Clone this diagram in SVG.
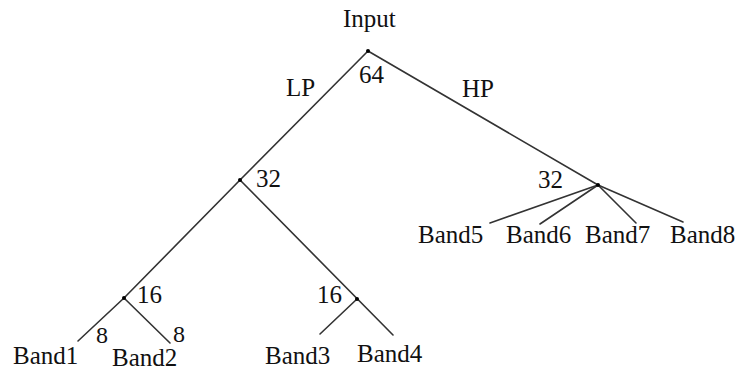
<svg xmlns="http://www.w3.org/2000/svg" width="739" height="371" viewBox="0 0 739 371">
  <style>
    .edge { stroke: #333; stroke-width: 1.6; fill: none; stroke-linecap: round; }
    .dot { fill: #000; }
    text { font-family: "Liberation Serif", "Times New Roman", serif; font-size: 25px; fill: #111; }
    .small { font-size: 24px; }
  </style>
  <rect width="739" height="371" fill="#fff"/>

  <!-- filter-bank branches -->
  <g id="connectors">
    <line class="edge" x1="368" y1="51" x2="240" y2="180"/>
    <line class="edge" x1="368" y1="51" x2="598" y2="185"/>
    <line class="edge" x1="240" y1="180" x2="124" y2="298"/>
    <line class="edge" x1="240" y1="180" x2="393" y2="335"/>
    <line class="edge" x1="124" y1="298" x2="78" y2="341"/>
    <line class="edge" x1="124" y1="298" x2="170" y2="343"/>
    <line class="edge" x1="357" y1="299" x2="320" y2="334"/>
    <line class="edge" x1="598" y1="185" x2="490" y2="223"/>
    <line class="edge" x1="598" y1="185" x2="540" y2="224"/>
    <line class="edge" x1="598" y1="185" x2="636" y2="223"/>
    <line class="edge" x1="598" y1="185" x2="683" y2="222"/>
  </g>

  <g id="input">
    <circle class="dot" cx="368" cy="51" r="2"/>
    <text x="343" y="27">Input</text>
    <text x="359" y="83">64</text>
  </g>

  <g id="edge-labels">
    <text x="286" y="96">LP</text>
    <text x="462" y="97">HP</text>
  </g>

  <g id="lp-split">
    <circle class="dot" cx="240" cy="180" r="2"/>
    <text x="256" y="187">32</text>
  </g>

  <g id="hp-split">
    <circle class="dot" cx="598" cy="185" r="2"/>
    <text x="538" y="188">32</text>
  </g>

  <g id="lp-lp-split">
    <circle class="dot" cx="124" cy="298" r="2"/>
    <text x="137" y="303">16</text>
    <text class="small" x="96" y="343">8</text>
    <text class="small" x="173" y="342">8</text>
  </g>

  <g id="lp-hp-split">
    <circle class="dot" cx="357" cy="299" r="2"/>
    <text x="317" y="303">16</text>
  </g>

  <g id="band1"><text x="13" y="364">Band1</text></g>
  <g id="band2"><text x="112" y="366">Band2</text></g>
  <g id="band3"><text x="265" y="364">Band3</text></g>
  <g id="band4"><text x="357" y="362">Band4</text></g>
  <g id="band5"><text x="418" y="243">Band5</text></g>
  <g id="band6"><text x="506" y="243">Band6</text></g>
  <g id="band7"><text x="585" y="243">Band7</text></g>
  <g id="band8"><text x="670" y="243">Band8</text></g>
</svg>
